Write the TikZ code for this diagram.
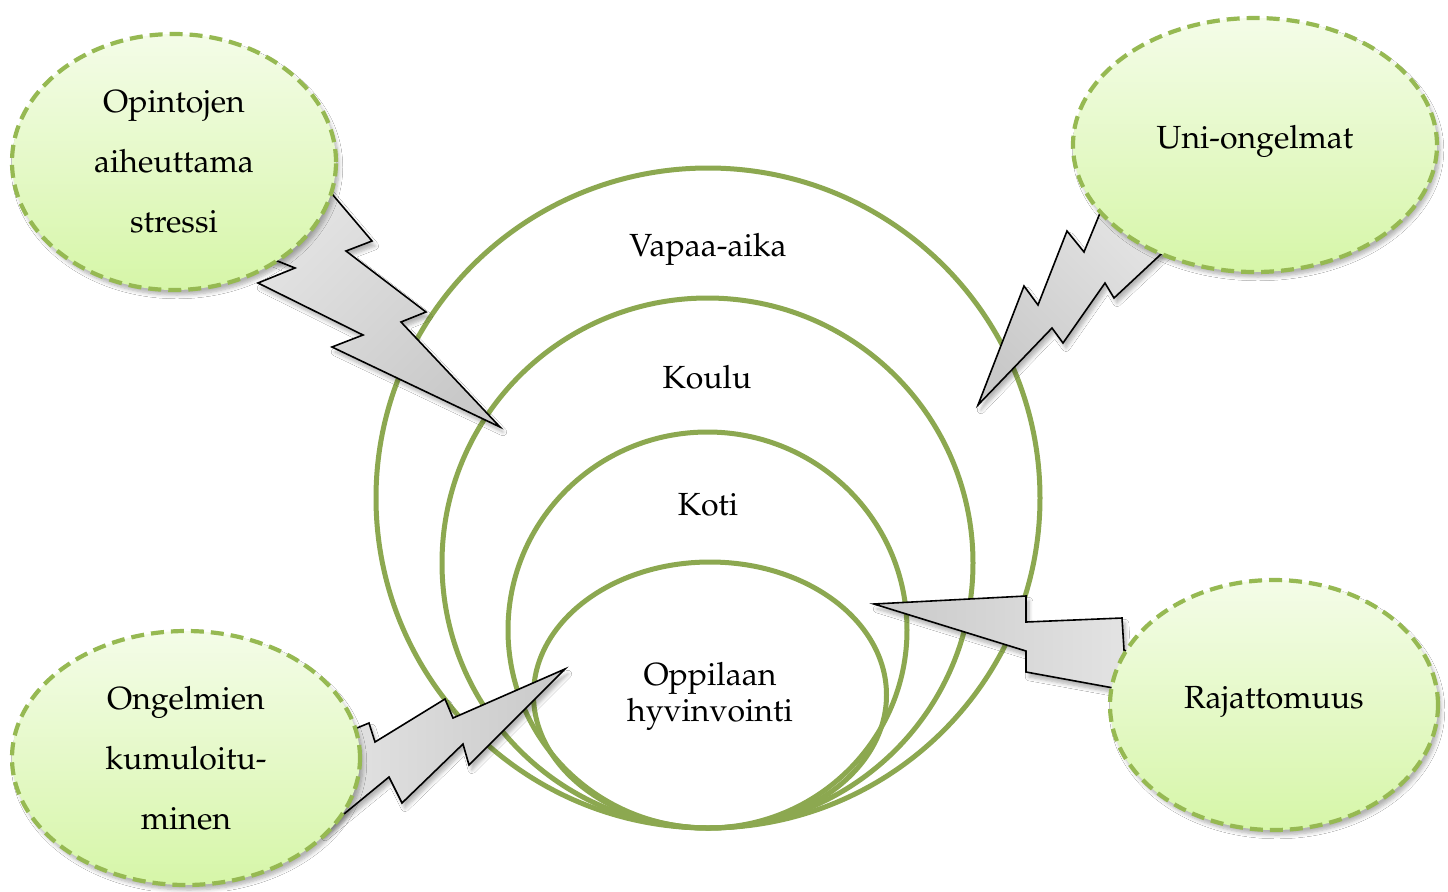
\documentclass[tikz,border=0pt]{standalone}
\usepackage[T1]{fontenc}
\usepackage{mathpazo}
\usetikzlibrary{shapes.geometric,shadows.blur}

\definecolor{ringgreen}{RGB}{140,168,80}
\definecolor{dashgreen}{RGB}{150,185,82}
\definecolor{bubbletop}{RGB}{244,252,232}
\definecolor{bubblebottom}{RGB}{214,246,168}
\definecolor{boltlight}{RGB}{228,228,228}
\definecolor{boltdark}{RGB}{201,201,201}

\tikzset{
    ring/.style={ellipse, draw=ringgreen, line width=2.5pt, inner sep=0pt},
    ringtext/.style={font=\fontsize{16}{30}\selectfont, align=center},
    bubble/.style={ellipse, draw=dashgreen, line width=2.1pt, dash pattern=on 6.5pt off 3.5pt,
        top color=bubbletop, bottom color=bubblebottom, inner sep=0pt,
        align=center, font=\fontsize{16}{30}\selectfont,
        blur shadow={shadow xshift=1.5pt, shadow yshift=-2.5pt, shadow opacity=30, shadow blur steps=6}},
    bolt/.style={draw=black, line width=0.8pt, line join=miter,
        top color=boltlight, bottom color=boltdark,
        blur shadow={shadow xshift=1.5pt, shadow yshift=-2.5pt, shadow opacity=30, shadow blur steps=6}},
}

\begin{document}
\begin{tikzpicture}[x=0.5pt, y=-0.5pt]

    \fill[white] (0,0) rectangle (1448,891);
    \useasboundingbox (0,0) rectangle (1448,891);

    % Sisäkkäiset ympyrät
    \node[ring, minimum width=332pt, minimum height=330pt] (vapaa) at (708,498) {};
    \node[ring, minimum width=265.5pt, minimum height=265pt] (koulu) at (707.5,563) {};
    \node[ring, minimum width=199.5pt, minimum height=198pt] (koti) at (707.5,630) {};
    \node[ring, minimum width=176.5pt, minimum height=133pt] (oppilas) at (710,695) {};

    \node[ringtext] (vapaatext) at (708,249) {Vapaa-aika};
    \node[ringtext] (koulutext) at (707,377) {Koulu};
    \node[ringtext] (kotitext) at (708,505) {Koti};
    \node[ringtext, font=\fontsize{16}{18}\selectfont] (oppilastext) at (710,696) {Oppilaan\\hyvinvointi};

    % Salamat
    \draw[bolt, shading angle=45]
        (321,181) -- (372,241) -- (346,251) -- (426,312) -- (401,322) -- (500,427)
        -- (332,347) -- (363,335) -- (258,283) -- (295,268) -- (270,258) -- cycle;
    \draw[bolt, shading angle=-45]
        (1105,201) -- (1084,252) -- (1067,231) -- (1038,305) -- (1024,286) -- (978,405)
        -- (1052,328) -- (1063,343) -- (1105,283) -- (1114,298) -- (1174,242) -- cycle;
    \draw[bolt, shading angle=-90]
        (874,604) -- (1026,596) -- (1026,622) -- (1122,618) -- (1124,650) -- (1135,655)
        -- (1130,691) -- (1026,672) -- (1026,651) -- cycle;
    \draw[bolt, shading angle=90]
        (345,733) -- (369,723) -- (375,742) -- (445,699) -- (453,718) -- (565,669)
        -- (469,765) -- (463,744) -- (402,803) -- (389,777) -- (322,832) -- cycle;

    % Kuplat
    \node[bubble, minimum width=162pt, minimum height=128pt] (opinnot) at (174,162)
        {Opintojen\\aiheuttama\\stressi};
    \node[bubble, minimum width=182pt, minimum height=127pt, text depth=8pt] (uni) at (1255,145)
        {Uni-ongelmat};
    \node[bubble, minimum width=164pt, minimum height=125pt, text depth=8pt] (raja) at (1274,705)
        {Rajattomuus};
    \node[bubble, minimum width=174pt, minimum height=127pt] (kasautuma) at (186,758)
        {Ongelmien\\kumuloitu-\\minen};

\end{tikzpicture}
\end{document}
